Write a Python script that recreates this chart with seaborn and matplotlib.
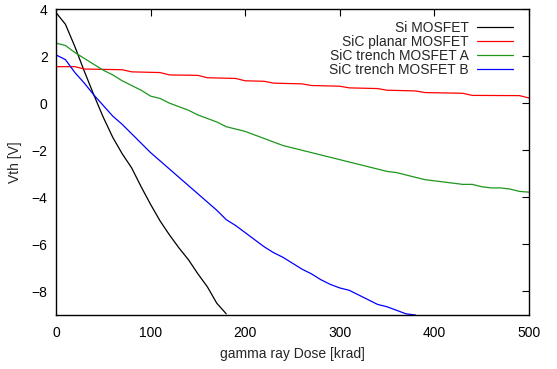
import matplotlib
matplotlib.use("Agg")
import matplotlib.pyplot as plt
import seaborn as sns
import pandas as pd

sns.set_theme(style="white")
plt.rcParams['font.family'] = ['Liberation Sans', 'DejaVu Sans']

si_x = [0, 10, 20, 30, 40, 50, 60, 70, 80, 90, 100, 110, 120, 130, 140, 150, 160, 170, 180]
si_y = [3.85, 3.35, 2.4, 1.35, 0.35, -0.6, -1.45, -2.15, -2.75, -3.55, -4.3, -5.0, -5.6, -6.15, -6.65, -7.25, -7.8, -8.5, -8.95]

planar_x = [0, 20, 30, 70, 80, 110, 120, 150, 160, 190, 200, 220, 230, 260, 270, 300, 310, 340, 350, 380, 390, 430, 440, 490, 500]
planar_y = [1.55, 1.55, 1.45, 1.42, 1.33, 1.3, 1.2, 1.18, 1.08, 1.05, 0.95, 0.93, 0.85, 0.82, 0.75, 0.72, 0.65, 0.62, 0.55, 0.52, 0.45, 0.42, 0.33, 0.32, 0.22]

trA_x = list(range(0, 510, 10))
trA_y = [2.55, 2.45, 2.15, 1.9, 1.65, 1.4, 1.2, 0.95, 0.75, 0.55, 0.3, 0.2, 0.0, -0.15, -0.3, -0.5, -0.65,
         -0.8, -1.0, -1.1, -1.2, -1.35, -1.5, -1.65, -1.8, -1.9, -2.0, -2.1, -2.2, -2.3, -2.4, -2.5, -2.6,
         -2.7, -2.8, -2.9, -2.95, -3.05, -3.15, -3.25, -3.3, -3.35, -3.4, -3.45, -3.45, -3.55, -3.6, -3.6,
         -3.65, -3.75, -3.78]

trB_x = list(range(0, 390, 10))
trB_y = [2.05, 1.85, 1.3, 0.85, 0.35, -0.1, -0.55, -0.9, -1.3, -1.7, -2.1, -2.45, -2.8, -3.15, -3.5, -3.85,
         -4.2, -4.55, -4.95, -5.2, -5.5, -5.8, -6.1, -6.35, -6.55, -6.8, -7.05, -7.25, -7.5, -7.7, -7.85,
         -7.95, -8.15, -8.35, -8.55, -8.65, -8.8, -8.95, -9.0]

names = ["Si MOSFET", "SiC planar MOSFET", "SiC trench MOSFET A", "SiC trench MOSFET B"]
colors = ["#000000", "#ff0000", "#1e961e", "#0000ff"]

frames = []
for n, xs, ys in zip(names, [si_x, planar_x, trA_x, trB_x], [si_y, planar_y, trA_y, trB_y]):
    frames.append(pd.DataFrame({"dose": xs, "vth": ys, "device": n}))
df = pd.concat(frames, ignore_index=True)

fig = plt.figure(figsize=(5.57, 3.69), dpi=100)
ax = fig.add_axes([0.1005, 0.1463, 0.8492, 0.8293])

sns.lineplot(data=df, x="dose", y="vth", hue="device", hue_order=names,
             palette=colors, linewidth=0.9, ax=ax, sort=False, estimator=None)

FS = 10
ax.set_xlim(0, 500)
ax.set_ylim(-9, 4)
ax.set_xticks([0, 100, 200, 300, 400, 500])
ax.set_yticks([-8, -6, -4, -2, 0, 2, 4])
ax.set_xlabel("gamma ray Dose [krad]", fontsize=FS, labelpad=5)
ax.set_ylabel("Vth [V]", fontsize=FS, labelpad=7)
ax.tick_params(axis="x", pad=8)
ax.tick_params(axis="y", pad=6)
ax.tick_params(axis="both", direction="in", length=5, width=0.8, labelsize=FS,
               top=True, right=True, colors="black")
for s in ax.spines.values():
    s.set_color("black")
    s.set_linewidth(1.0)

leg = ax.legend(loc="upper right", frameon=False, fontsize=FS, markerfirst=False,
                handlelength=2.6, handletextpad=0.6, labelspacing=0.0,
                borderaxespad=0.3, bbox_to_anchor=(1 - 6 / 473, 1 - 2 / 306))
for line in leg.get_lines():
    line.set_linewidth(0.9)

fig.savefig("out.png", dpi=100)
